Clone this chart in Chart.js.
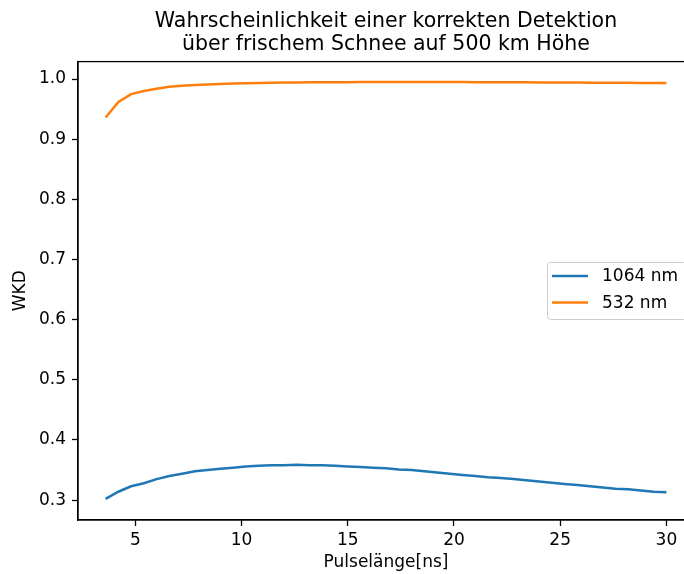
<!DOCTYPE html>
<html lang="de">
<head>
  <meta charset="UTF-8" />
  <title>WKD über frischem Schnee</title>
  <script src="https://cdn.jsdelivr.net/npm/chart.js"></script>
  <style>
    html, body {
      margin: 0;
      padding: 0;
      background: white;
      overflow: hidden;
    }
    #wrap {
      width: 720px;
      height: 574px;
    }
  </style>
</head>
<body>
  <div id="wrap">
    <canvas id="wkdChart" width="720" height="574"></canvas>
  </div>

  <script>
    // Pulse lengths [ns]
    const pulseLengths = [3.6, 4.2, 4.8, 5.4, 6.0, 6.6, 7.2, 7.8, 8.4, 9.0, 9.6, 10.2, 10.8, 11.4, 12.0,
      12.6, 13.2, 13.8, 14.4, 15.0, 15.6, 16.2, 16.8, 17.4, 18.0, 18.6, 19.2, 19.8, 20.4, 21.0,
      21.6, 22.2, 22.8, 23.4, 24.0, 24.6, 25.2, 25.8, 26.4, 27.0, 27.6, 28.2, 28.8, 29.4, 30.0];

    // WKD for 1064 nm
    const wkd1064 = [0.302, 0.314, 0.323, 0.328, 0.335, 0.340, 0.344, 0.348, 0.350, 0.352, 0.354, 0.356, 0.357, 0.358, 0.358,
      0.359, 0.358, 0.358, 0.357, 0.356, 0.355, 0.354, 0.353, 0.351, 0.350, 0.348, 0.346, 0.344, 0.342, 0.340,
      0.338, 0.337, 0.335, 0.333, 0.331, 0.329, 0.327, 0.325, 0.323, 0.321, 0.319, 0.318, 0.316, 0.314, 0.313];

    // WKD for 532 nm
    const wkd532 = [0.936, 0.962, 0.975, 0.980, 0.984, 0.987, 0.989, 0.990, 0.991, 0.9918, 0.9925, 0.993, 0.9935, 0.9938, 0.9941,
      0.9943, 0.9945, 0.9946, 0.9947, 0.9948, 0.9949, 0.9949, 0.9950, 0.9950, 0.9950, 0.9950, 0.9950, 0.9949, 0.9949, 0.9948,
      0.9948, 0.9947, 0.9946, 0.9945, 0.9944, 0.9943, 0.9942, 0.9941, 0.9940, 0.9939, 0.9938, 0.9937, 0.9936, 0.9935, 0.9934];

    const seriesLabels = ["1064 nm", "532 nm"];
    const xTicks = [5, 10, 15, 20, 25, 30];
    const yTicks = [0.3, 0.4, 0.5, 0.6, 0.7, 0.8, 0.9, 1.0];

    const FONT = "'DejaVu Sans', sans-serif";
    const toPoints = ys => pulseLengths.map((x, i) => ({ x: x, y: ys[i] }));

    // top spine + legend box inside the plot (like matplotlib)
    const frameAndLegend = {
      id: 'frameAndLegend',
      afterDraw(chart) {
        const ctx = chart.ctx;
        const a = chart.chartArea;
        ctx.save();
        ctx.strokeStyle = '#000';
        ctx.lineWidth = 1.3;
        ctx.strokeRect(a.left, a.top, a.right - a.left, a.bottom - a.top);

        // legend
        const bx = a.right - 147, by = 262, bw = 139, bh = 57;
        ctx.beginPath();
        ctx.roundRect(bx + 0.5, by + 0.5, bw, bh, 3);
        ctx.fillStyle = 'rgba(255,255,255,0.8)';
        ctx.fill();
        ctx.strokeStyle = '#cccccc';
        ctx.lineWidth = 1;
        ctx.stroke();

        ctx.font = "17px " + FONT;
        ctx.textBaseline = 'middle';
        chart.data.datasets.forEach((ds, i) => {
          const y = by + 14 + i * 26.5;
          ctx.beginPath();
          ctx.moveTo(bx + 5, y);
          ctx.lineTo(bx + 41, y);
          ctx.strokeStyle = ds.borderColor;
          ctx.lineWidth = 2.5;
          ctx.stroke();
          ctx.fillStyle = '#000';
          ctx.fillText(ds.label, bx + 55, y + 1);
        });
        ctx.restore();
      }
    };

    new Chart(document.getElementById("wkdChart"), {
      type: 'line',
      data: {
        datasets: [
          {
            label: seriesLabels[0],
            data: toPoints(wkd1064),
            borderColor: '#1f77b4',
            borderWidth: 2.5,
            pointRadius: 0,
            fill: false,
            tension: 0
          },
          {
            label: seriesLabels[1],
            data: toPoints(wkd532),
            borderColor: '#ff7f0e',
            borderWidth: 2.5,
            pointRadius: 0,
            fill: false,
            tension: 0
          }
        ]
      },
      options: {
        responsive: false,
        animation: false,
        devicePixelRatio: 1,
        layout: { padding: { left: 0, top: 0, right: 26, bottom: 0 } },
        plugins: {
          legend: { display: false },
          tooltip: { enabled: false },
          title: {
            display: true,
            fullSize: false,
            text: ["Wahrscheinlichkeit einer korrekten Detektion", "über frischem Schnee auf 500 km Höhe"],
            color: '#000',
            font: { family: FONT, size: 20.5, weight: 'normal', lineHeight: 1.1 },
            padding: { top: 10.5, bottom: 6 }
          }
        },
        scales: {
          x: {
            type: 'linear',
            min: 2.3,
            max: 31.3,
            afterBuildTicks: axis => { axis.ticks = xTicks.map(v => ({ value: v })); },
            afterFit: axis => { axis.height = 54; },
            grid: { drawOnChartArea: false, tickLength: 6, tickWidth: 1.3, tickColor: '#000' },
            border: { color: '#000', width: 1.3 },
            ticks: { color: '#000', padding: 4, maxRotation: 0, font: { family: FONT, size: 17 } },
            title: {
              display: true,
              text: "Pulselänge[ns]",
              color: '#000',
              font: { family: FONT, size: 17 },
              padding: { top: 0, bottom: 1 }
            }
          },
          y: {
            min: 0.267,
            max: 1.029,
            afterBuildTicks: axis => { axis.ticks = yTicks.map(v => ({ value: v })); },
            afterFit: axis => { axis.width = 78; },
            grid: { drawOnChartArea: false, tickLength: 6, tickWidth: 1.3, tickColor: '#000' },
            border: { color: '#000', width: 1.3 },
            ticks: {
              color: '#000',
              padding: 6,
              font: { family: FONT, size: 17 },
              callback: v => v.toFixed(1)
            },
            title: {
              display: true,
              text: "WKD",
              color: '#000',
              font: { family: FONT, size: 17 },
              padding: { top: 10, bottom: 0 }
            }
          }
        }
      },
      plugins: [frameAndLegend]
    });
  </script>
</body>
</html>
